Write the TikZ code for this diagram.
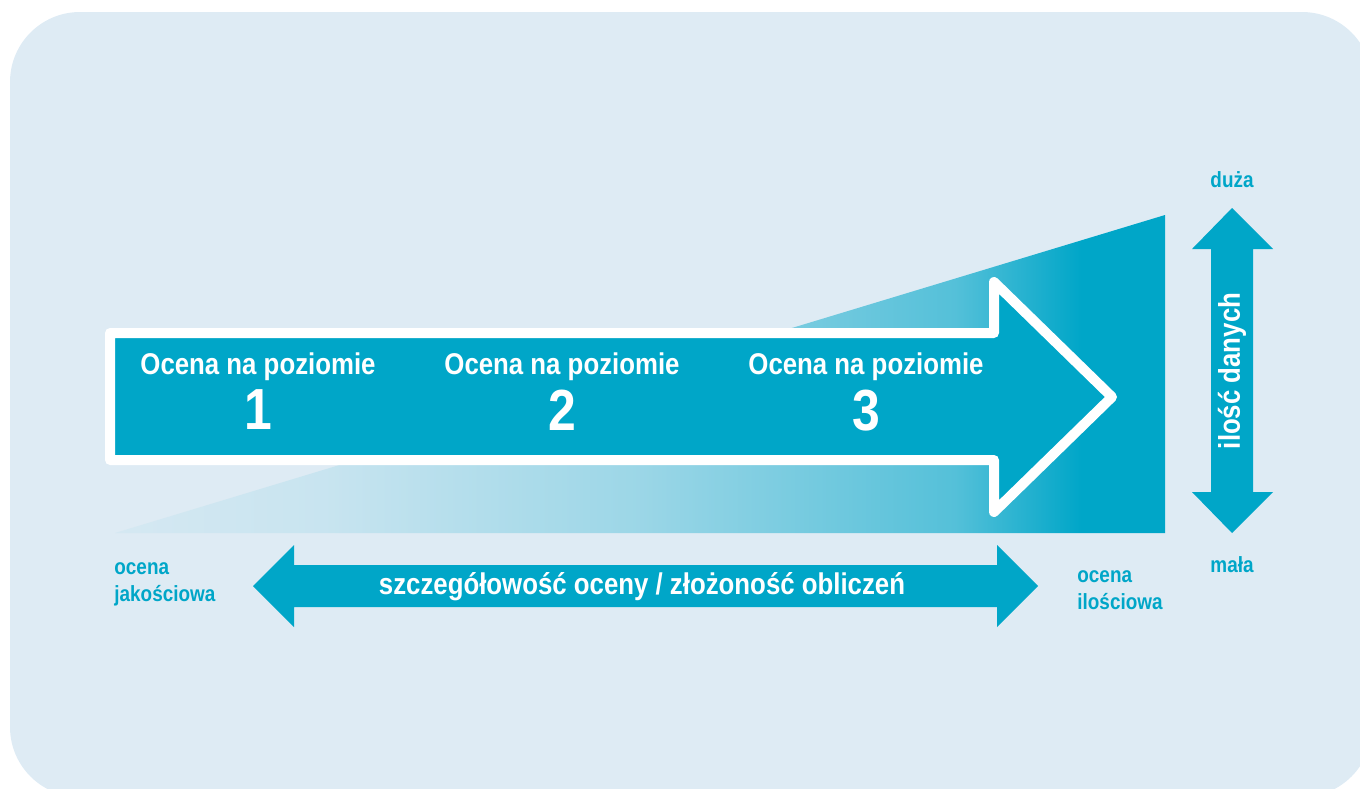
\documentclass[tikz,border=0pt]{standalone}
\usepackage{fontspec}
\setmainfont{Liberation Sans}[FakeStretch=0.86]
\usepackage{tikz}
\usetikzlibrary{positioning}

\definecolor{bgblue}{HTML}{DEEBF4}
\definecolor{tealc}{HTML}{00A6C8}
\pgfdeclarehorizontalshading{wedgefade}{100bp}{color(0bp)=(bgblue); color(25bp)=(tealc!4!bgblue); color(35bp)=(tealc!10!bgblue); color(50bp)=(tealc!30!bgblue); color(65bp)=(tealc!62!bgblue); color(71bp)=(tealc); color(100bp)=(tealc)}

\begin{document}
\begin{tikzpicture}[x=0.5pt, y=-0.5pt,
  lbl/.style={text=tealc, font=\fontsize{11}{13.5}\selectfont\bfseries, inner sep=0pt},
  head/.style={text=white, font=\fontsize{15}{17}\selectfont\bfseries, inner sep=0pt},
  num/.style={text=white, font=\fontsize{29}{30}\selectfont\bfseries, inner sep=0pt}]
\useasboundingbox (0,0) rectangle (1360,788);
\clip (0,0) rectangle (1360,788);
\fill[bgblue, rounded corners=35pt] (10,12) rectangle (1372,797);

% growing amount of data
\shade[shading=wedgefade] (115,533) -- (1165,215) -- (1165,533) -- cycle;

% main arrow
\filldraw[fill=tealc, draw=white, line width=5pt, line join=round] (110,333) -- (994,333) -- (994,282) -- (1112,397) -- (994,512) -- (994,460) -- (110,460) -- cycle;

\node[head] (LevelOne) at (258,367) {Ocena na poziomie};
\node[num, below=4pt of LevelOne] (LevelOneNum) {1};
\node[head] (LevelTwo) at (562,367) {Ocena na poziomie};
\node[num, below=4pt of LevelTwo] (LevelTwoNum) {2};
\node[head] (LevelThree) at (866,367) {Ocena na poziomie};
\node[num, below=4pt of LevelThree] (LevelThreeNum) {3};

% data axis
\fill[tealc] (1232,208) -- (1273,249) -- (1253,249) -- (1253,492) -- (1273,492) -- (1232,533) -- (1192,492) -- (1211,492) -- (1211,249) -- (1192,249) -- cycle;
\node[head, rotate=90] (DataAmount) at (1232,371) {ilość danych};
\node[lbl] (Large) at (1232,180) {duża};
\node[lbl] (Small) at (1232,565) {mała};

% detail axis
\fill[tealc] (253,586) -- (294,545) -- (294,565) -- (997,565) -- (997,545) -- (1038,586) -- (997,627) -- (997,607) -- (294,607) -- (294,627) -- cycle;
\node[head] (Detail) at (642,587) {szczegółowość oceny / złożoność obliczeń};
\node[lbl, anchor=west, align=left] (Qualitative) at (114,584) {ocena\\jakościowa};
\node[lbl, anchor=west, align=left] (Quantitative) at (1077,590) {ocena\\ilościowa};
\end{tikzpicture}
\end{document}
